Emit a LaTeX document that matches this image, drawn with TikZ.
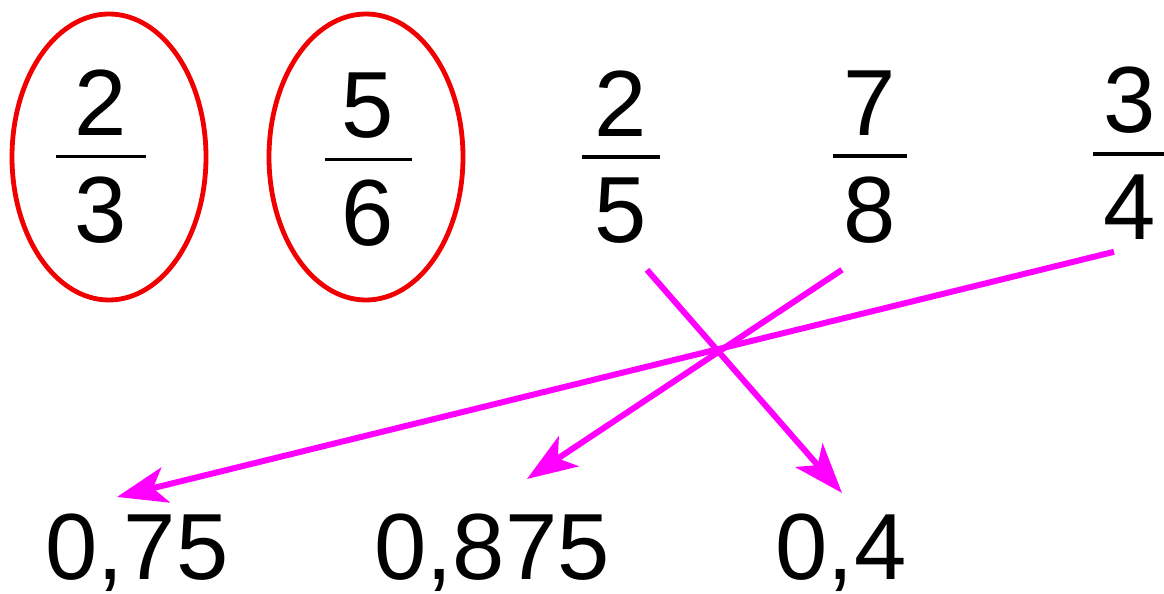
\documentclass[tikz,border=0pt]{standalone}
\usepackage{fontspec}
\setmainfont{Liberation Sans}
\usepackage{xcolor}
\usepackage{tikz}
\usetikzlibrary{arrows.meta,shapes.geometric}

\definecolor{hotpink}{RGB}{255,0,255}
\definecolor{ringred}{RGB}{240,0,0}

% stacked fraction with a bar of given length
\newcommand{\fr}[3][40pt]{\vbox{\offinterlineskip\halign{\hfil##\hfil\cr#2\cr\noalign{\kern9.5pt}\rule{#1}{1.8pt}\cr\noalign{\kern9.5pt}#3\cr}}}

\begin{document}
\begin{tikzpicture}[
    x=0.5pt, y=-0.5pt,
    num/.style={inner sep=0pt, font=\fontsize{47pt}{56pt}\selectfont},
    dec/.style={num, anchor=base},
    ring/.style={ellipse, draw=ringred, line width=2.4pt, minimum width=97pt, minimum height=143pt, inner sep=0pt},
    arrow/.style={-{Stealth[length=25pt, width=18pt, inset=6.5pt]}, draw=hotpink, line width=3pt}
]
    \useasboundingbox (0,0) rectangle (1164,594);

    % Fractions
    \node[num] (f1) at (101,157) {\fr[45pt]{2}{3}};
    \node[num] (f2) at (368,160) {\fr[43.5pt]{5}{6}};
    \node[num] (f3) at (621,157) {\fr[39pt]{2}{5}};
    \node[num] (f4) at (870,157) {\fr[37pt]{7}{8}};
    \node[num] (f5) at (1130,153) {\fr[37pt]{3}{4}};

    % Circled ones
    \node[ring] (e1) at (109,157) {};
    \node[ring] (e2) at (366,157) {};

    % Decimals
    \node[dec] (d1) at (137,579) {0,75};
    \node[dec] (d2) at (492,579) {0,875};
    \node[dec] (d3) at (841,579) {0,4};

    % Arrows
    \draw[arrow] ([shift={(-16,12)}]f5.south) -- ([shift={(-20,-16)}]d1.north);
    \draw[arrow] ([shift={(-28,26)}]f4.south) -- ([shift={(35,-34)}]d2.north);
    \draw[arrow] ([shift={(26,26)}]f3.south) -- ([shift={(1,-20)}]d3.north);
\end{tikzpicture}
\end{document}
